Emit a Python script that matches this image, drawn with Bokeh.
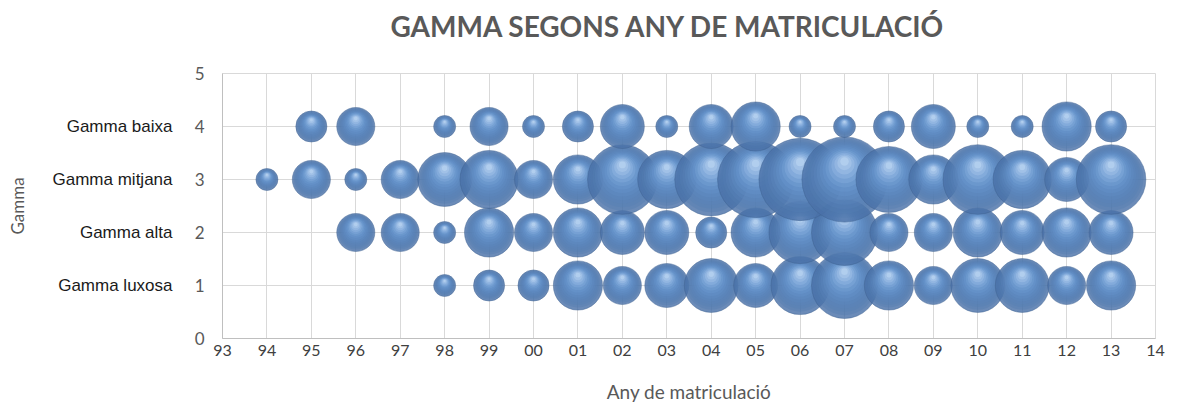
import numpy as np
from bokeh.plotting import figure
from bokeh.models import ColumnDataSource, FixedTicker, LinearAxis, Range1d, Title
from bokeh.embed import file_html
from bokeh.resources import INLINE

# ---- data -------------------------------------------------------------
year_labels = ["93", "94", "95", "96", "97", "98", "99", "00", "01", "02", "03",
               "04", "05", "06", "07", "08", "09", "10", "11", "12", "13", "14"]
years = list(range(1993, 2015))
categories = ["Gamma luxosa", "Gamma alta", "Gamma mitjana", "Gamma baixa"]
category_codes = [1, 2, 3, 4]

# bubble values per year 1993..2013 (0 = no bubble)
luxosa  = [0, 0, 0, 0, 0, 1, 2, 2, 5, 3, 4, 6, 4, 7, 9, 5, 3, 6, 6, 3, 5]
alta    = [0, 0, 0, 3, 3, 1, 5, 3, 5, 4, 4, 2, 5, 8, 9, 3, 3, 5, 4, 5, 4]
mitjana = [0, 1, 3, 1, 3, 6, 7, 3, 5, 10, 7, 11, 12, 14, 15, 9, 5, 10, 7, 4, 10]
baixa   = [0, 0, 2, 3, 0, 1, 3, 1, 2, 4, 1, 4, 5, 1, 1, 2, 4, 1, 1, 5, 2]
series = [luxosa, alta, mitjana, baixa]

# ---- figure -----------------------------------------------------------
W, H = 1179, 412
FL, FR, FT, FB = 222, 24, 73, 74
frame_h = H - FT - FB
px_per_unit_y = frame_h / 5.0
base_px = 22.0  # diameter of a bubble of value 1

p = figure(width=W, height=H, output_backend="svg", toolbar_location=None,
           x_range=Range1d(1993, 2014), y_range=Range1d(0, 5),
           min_border_left=FL, min_border_right=FR, min_border_top=FT,
           min_border_bottom=FB, background_fill_color="white",
           border_fill_color="white", outline_line_color="#d9d9d9")

# layered spheres (smooth radial shading, highlight near the top)
N = 14
c0 = np.array([74, 114, 168])
c1 = np.array([110, 156, 213])
c2 = np.array([210, 232, 253])


def shade(t):
    if t < 0.55:
        c = c0 + (c1 - c0) * (t / 0.55)
    else:
        c = c1 + (c2 - c1) * ((t - 0.55) / 0.45)
    return "#%02x%02x%02x" % tuple(int(round(v)) for v in c)


xs, ys, ss, cs, al, lc, la = [], [], [], [], [], [], []
for code, vals in zip(category_codes, series):
    for yr, v in zip(years, vals):
        if v <= 0:
            continue
        d = base_px * np.sqrt(v)
        r = d / 2.0
        for i in range(N):
            t = i / (N - 1)
            f = 1.0 - 0.9 * t
            o = 0.42 * t
            xs.append(yr)
            ys.append(code + o * r / px_per_unit_y)
            ss.append(d * f)
            cs.append(shade(t))
            al.append(0.82 if i == 0 else 0.32)
            lc.append("#3d6291" if i == 0 else "#ffffff")
            la.append(0.45 if i == 0 else 0.0)

src = ColumnDataSource(dict(x=xs, y=ys, size=ss, color=cs, alpha=al, lc=lc, la=la))
p.scatter("x", "y", size="size", fill_color="color", fill_alpha="alpha",
          line_color="lc", line_alpha="la", line_width=1, source=src)

# grid
p.xgrid.ticker = FixedTicker(ticks=years)
p.ygrid.ticker = FixedTicker(ticks=[0, 1, 2, 3, 4, 5])
p.grid.grid_line_color = "#d9d9d9"
p.grid.grid_line_width = 1

# x axis
xa = p.xaxis[0]
xa.ticker = FixedTicker(ticks=years)
xa.major_label_overrides = {yr: lab for yr, lab in zip(years, year_labels)}
xa.axis_label = "Any de matriculació"
xa.axis_label_text_font = "Lato"
xa.axis_label_text_font_size = "19px"
xa.axis_label_text_font_style = "normal"
xa.axis_label_text_color = "#595959"
xa.axis_label_standoff = 21
xa.major_label_text_font = "Lato"
xa.major_label_text_font_size = "16px"
xa.major_label_text_color = "#404040"
xa.major_label_standoff = 6
xa.axis_line_color = "#bfbfbf"
xa.major_tick_line_color = None
xa.major_tick_out = 0
xa.major_tick_in = 0
xa.minor_tick_line_color = None

# y numeric axis
ya = p.yaxis[0]
ya.ticker = FixedTicker(ticks=[0, 1, 2, 3, 4, 5])
ya.major_label_text_font = "Lato"
ya.major_label_text_font_size = "17px"
ya.major_label_text_color = "#595959"
ya.major_label_standoff = 18
ya.axis_line_color = "#bfbfbf"
ya.major_tick_line_color = None
ya.major_tick_out = 0
ya.major_tick_in = 0
ya.minor_tick_line_color = None

# y category axis
ca = LinearAxis(ticker=FixedTicker(ticks=category_codes[::-1]))
ca.major_label_overrides = {c: n for c, n in zip(category_codes, categories)}
ca.major_label_text_font = "Liberation Sans"
ca.major_label_text_font_size = "17px"
ca.major_label_text_color = "#1a1a1a"
ca.major_label_standoff = 19
ca.axis_line_color = None
ca.major_tick_line_color = None
ca.major_tick_out = 0
ca.major_tick_in = 0
ca.minor_tick_line_color = None
ca.axis_label = "Gamma"
ca.axis_label_text_font = "Lato"
ca.axis_label_text_font_size = "17px"
ca.axis_label_text_font_style = "normal"
ca.axis_label_text_color = "#595959"
ca.axis_label_standoff = 22
p.add_layout(ca, "left")

# invisible spacer axis above the frame: one tick with an empty label,
# only its (invisible) tick length reserves room between frame and title
spacer = LinearAxis(ticker=FixedTicker(ticks=[2003]), axis_line_color=None,
                    major_tick_line_color=None, minor_tick_line_color=None,
                    major_tick_out=26, major_tick_in=0, minor_tick_out=0,
                    major_label_standoff=0, major_label_text_font_size="1px",
                    major_label_overrides={2003: ""})
p.add_layout(spacer, "above")

# title
t = Title(text="GAMMA SEGONS ANY DE MATRICULACIÓ", align="left",
          vertical_align="bottom", text_font="Lato", text_font_size="28px",
          text_font_style="bold", text_color="#595959", offset=168, standoff=10)
p.add_layout(t, "above")

open("out.html", "w").write(file_html(p, INLINE))
